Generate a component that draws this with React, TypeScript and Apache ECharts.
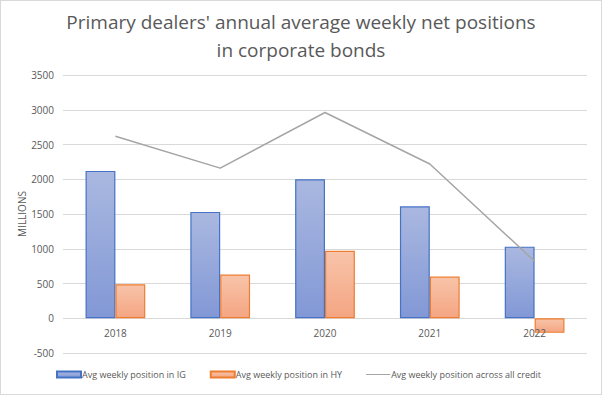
import React, { useEffect, useRef } from "react";
import * as echarts from "echarts";

const categories = ["2018", "2019", "2020", "2021", "2022"];
const igValues = [2120, 1530, 2000, 1610, 1030];
const hyValues = [490, 630, 970, 600, -210];
const allCreditValues = [2620, 2160, 2960, 2220, 820];
const seriesNames = [
  "Avg weekly position in IG",
  "Avg weekly position in HY",
  "Avg weekly position across all credit",
];

export default function App() {
  const ref = useRef<HTMLDivElement>(null);
  useEffect(() => {
    if (!ref.current) return;
    const chart = echarts.init(ref.current, undefined, { renderer: "svg" });
    const font = "'Open Sans', 'Noto Sans', sans-serif";
    const gridTop = 74;
    const gridBottom = 41;
    const yMin = -500;
    const yMax = 3500;
    const plotH = 393 - gridTop - gridBottom;
    const zeroOffset = -(plotH * (0 - yMin)) / (yMax - yMin);
    chart.setOption({
      animation: false,
      backgroundColor: "#ffffff",
      title: {
        text: "Primary dealers' annual average weekly net positions\nin corporate bonds",
        left: "center",
        top: 2,
        textStyle: {
          fontFamily: font,
          fontSize: 19,
          fontWeight: "normal",
          color: "#595959",
          lineHeight: 28,
        },
      },
      grid: { left: 62, right: 14, top: gridTop, bottom: gridBottom },
      legend: {
        bottom: 10,
        left: 50,
        itemWidth: 24,
        itemHeight: 6,
        itemGap: 24,
        textStyle: { fontFamily: font, fontSize: 9, color: "#595959", padding: [0, 0, 0, -4] },
        data: [
          { name: seriesNames[0], icon: "rect" },
          { name: seriesNames[1], icon: "rect" },
          { name: seriesNames[2], icon: "path://M0,0 L24,0 L24,1 L0,1 Z" },
        ],
      },
      xAxis: {
        type: "category",
        data: categories,
        z: 10,
        offset: zeroOffset,
        axisLine: { show: false },
        axisTick: { show: false },
        axisLabel: { fontFamily: font, fontSize: 10, color: "#595959", margin: 10 },
      },
      yAxis: {
        type: "value",
        min: yMin,
        max: yMax,
        interval: 500,
        name: "MILLIONS",
        nameLocation: "middle",
        nameGap: 36,
        nameMoveOverlap: false,
        nameTextStyle: { fontFamily: font, fontSize: 10, color: "#595959" },
        axisLine: { show: false },
        axisTick: { show: false },
        axisLabel: {
          fontFamily: font,
          fontSize: 10,
          color: "#595959",
          margin: 9,
          formatter: (v: number) => String(v),
        },
        splitLine: { lineStyle: { color: "#d9d9d9" } },
      },
      series: [
        {
          name: seriesNames[0],
          type: "bar",
          data: igValues,
          barWidth: "28.5%",
          barGap: "0%",
          itemStyle: {
            color: new echarts.graphic.LinearGradient(0, 0, 0, 1, [
              { offset: 0, color: "#aab8e0" },
              { offset: 1, color: "#8298d6" },
            ]),
            borderColor: "#4472c4",
            borderWidth: 1.2,
          },
        },
        {
          name: seriesNames[1],
          type: "bar",
          data: hyValues,
          barWidth: "28.5%",
          itemStyle: {
            color: new echarts.graphic.LinearGradient(0, 0, 0, 1, [
              { offset: 0, color: "#f8c4aa" },
              { offset: 1, color: "#f4a582" },
            ]),
            borderColor: "#ed7d31",
            borderWidth: 1.2,
          },
        },
        {
          name: seriesNames[2],
          type: "line",
          data: allCreditValues,
          symbol: "none",
          z: 5,
          lineStyle: { color: "#a5a5a5", width: 1.5 },
          itemStyle: { color: "#a5a5a5" },
        },
      ],
    });
    return () => chart.dispose();
  }, []);
  return (
    <div
      style={{
        position: "fixed",
        left: 0,
        top: 0,
        width: 602,
        height: 395,
        boxSizing: "border-box",
        border: "1px solid #d9d9d9",
        background: "#fff",
      }}
    >
      <div ref={ref} style={{ width: 600, height: 393 }} />
    </div>
  );
}
